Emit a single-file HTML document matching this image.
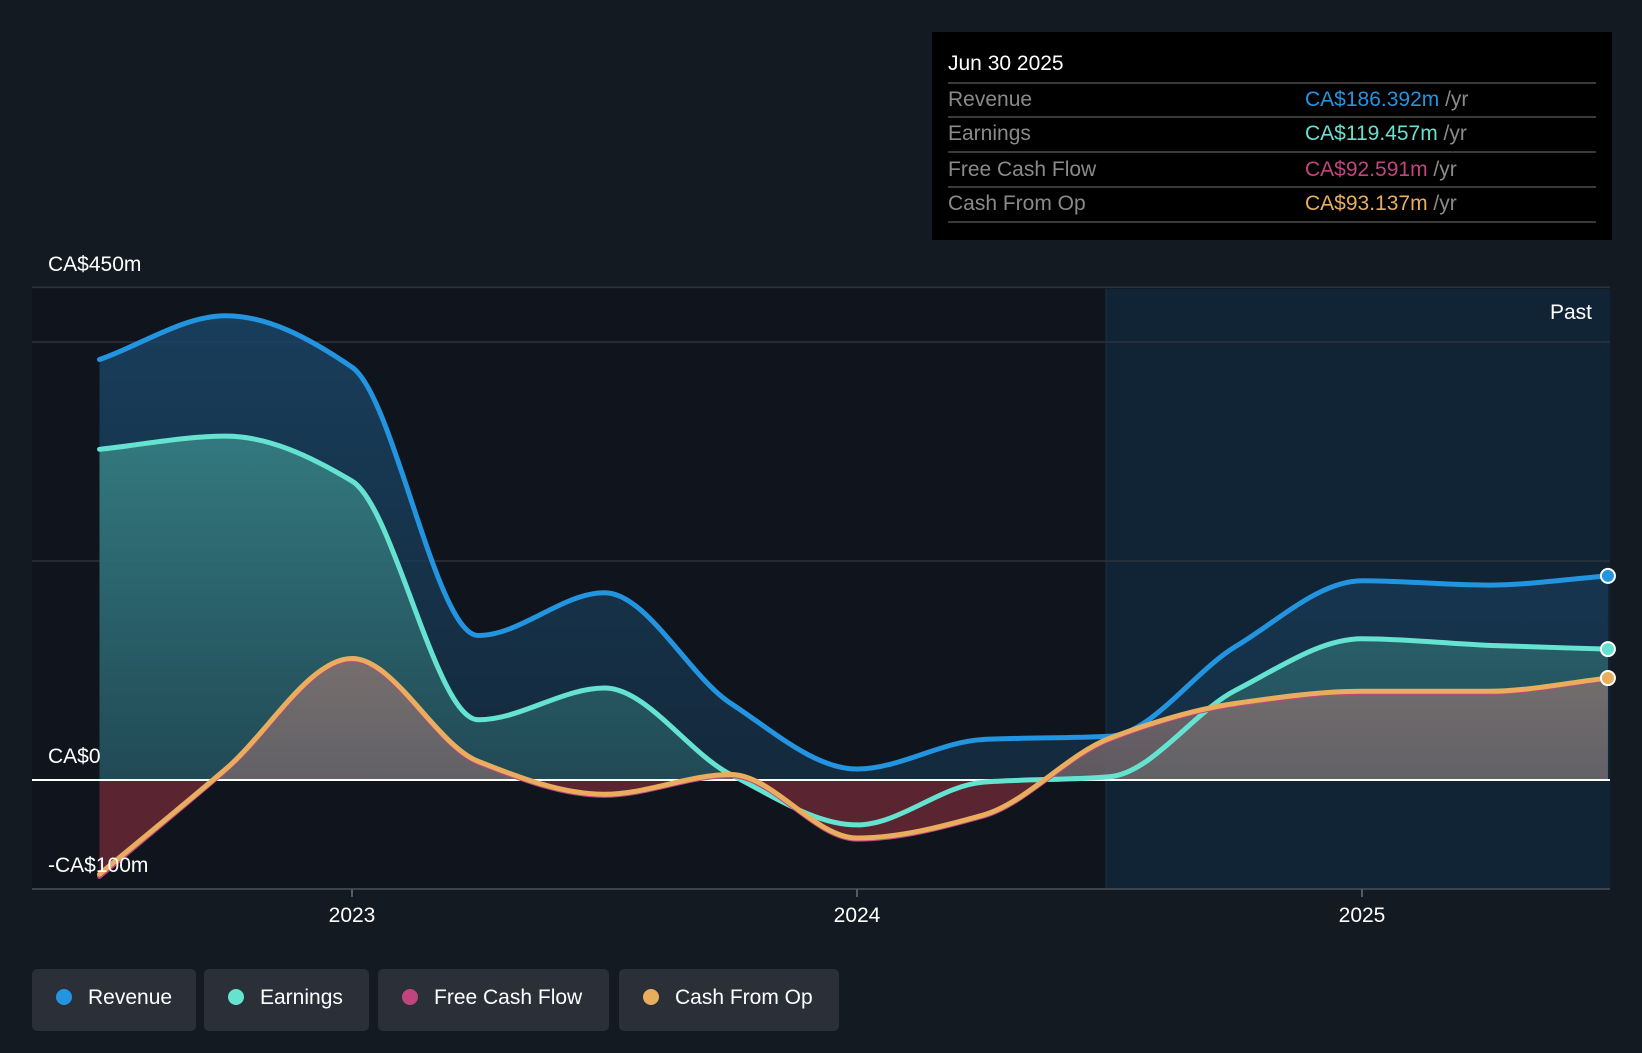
<!DOCTYPE html>
<html><head><meta charset="utf-8"><style>
body{margin:0;background:#141a22;width:1642px;height:1048px;overflow:hidden;font-family:"Liberation Sans",sans-serif}
svg text{font-family:"Liberation Sans",sans-serif}
</style></head><body>
<svg id="c" width="1642" height="1048"></svg>
<script>
const quarters=[2022.5,2022.75,2023,2023.25,2023.5,2023.75,2024,2024.25,2024.5,2024.75,2025,2025.25,2025.487];
const revenue=[384,424,377,132,171,70,10,37,40,122,182,178,186.4];
const earnings=[302,314,273,55,84,5,-41,-2,3,82,129,123,119.5];
const fcf=[-88,9,110,16,-14,4,-54,-33,37,69,80,80,92.6];
const cfo=[-86,10,111,17,-13,5,-53,-32,38,70,81,81,93.1];
const yTicks=[450,0,-100];
const yTickLabels=['CA$450m','CA$0','-CA$100m'];
const xTicks=[2023,2024,2025];
const NS='http://www.w3.org/2000/svg';
const svg=document.getElementById('c');
const X=t=>352+(t-2023)*505;
const Y=v=>780-v*1.095;
function el(tag,a,p){const e=document.createElementNS(NS,tag);for(const k in a)e.setAttribute(k,a[k]);(p||svg).appendChild(e);return e;}
function mono(xs,ys){const n=xs.length,d=[],m=[];for(let i=0;i<n-1;i++)d.push((ys[i+1]-ys[i])/(xs[i+1]-xs[i]));
m[0]=d[0];m[n-1]=d[n-2];for(let i=1;i<n-1;i++){const a=d[i-1],b=d[i];m[i]=a*b<=0?0:(2*a*b)/(a+b);}
let s='M'+xs[0]+','+ys[0];for(let i=0;i<n-1;i++){const h=(xs[i+1]-xs[i])/3;s+=`C${xs[i]+h},${ys[i]+m[i]*h} ${xs[i+1]-h},${ys[i+1]-m[i+1]*h} ${xs[i+1]},${ys[i+1]}`;}return s;}
const defs=el('defs',{});
defs.innerHTML=`<linearGradient id="gr" x1="0" y1="0" x2="0" y2="1"><stop offset="0" stop-color="#1a4566" stop-opacity="0.85"/><stop offset="1" stop-color="#16324a" stop-opacity="0.7"/></linearGradient>
<linearGradient id="ge" x1="0" y1="0" x2="0" y2="1"><stop offset="0" stop-color="#3a8a8a" stop-opacity="0.8"/><stop offset="1" stop-color="#24505a" stop-opacity="0.7"/></linearGradient>
<linearGradient id="gc" x1="0" y1="0" x2="0" y2="1"><stop offset="0" stop-color="#8a7470" stop-opacity="0.8"/><stop offset="1" stop-color="#6a6068" stop-opacity="0.7"/></linearGradient>
<clipPath id="pos"><rect x="0" y="0" width="1642" height="780"/></clipPath><clipPath id="neg"><rect x="0" y="780" width="1642" height="200"/></clipPath>`;
el('rect',{x:32,y:289,width:1074,height:600,fill:'#10151d',});
el('rect',{x:1106,y:289,width:504,height:600,fill:'#112435',});
el('line',{x1:1106,y1:289,x2:1106,y2:889,stroke:'#1d3040','stroke-width':1});
[450,400,200].forEach(v=>el('line',{x1:32,y1:Y(v),x2:1610,y2:Y(v),stroke:'#2c323b','stroke-width':1.5}));
const xs=quarters.map(X);
function area(vals,fill,name,clip){const p=mono(xs,vals.map(Y))+`L${xs[xs.length-1]},780L${xs[0]},780Z`;const e=el('path',{d:p,fill:fill,'clip-path':clip?'url(#'+clip+')':''});}
area(revenue,'url(#gr)','revenue-area');
area(earnings,'url(#ge)','earnings-area','pos');
area(cfo,'url(#gc)','cfo-area','pos');
area(fcf,'#5a2430','fcf-negative-area','neg');
el('line',{x1:32,y1:780,x2:1610,y2:780,stroke:'#ffffff','stroke-width':2,});
function line(vals,col,name){const e=el('path',{d:mono(xs,vals.map(Y)),fill:'none',stroke:col,'stroke-width':5,'stroke-linecap':'round'});}
line(revenue,'#2394e0','revenue-line');
line(earnings,'#65e3d0','earnings-line');
line(fcf,'#c0457f','fcf-line');
line(cfo,'#e8ae5e','cfo-line');
[[revenue,'#2394e0','revenue-end-dot'],[earnings,'#65e3d0','earnings-end-dot'],[cfo,'#e8ae5e','cfo-end-dot']].forEach(([v,c,n])=>{const e=el('circle',{cx:xs[xs.length-1],cy:Y(v[v.length-1]),r:7,fill:c,stroke:'#fff','stroke-width':2});});
el('line',{x1:32,y1:889,x2:1610,y2:889,stroke:'#3d434c','stroke-width':2});
const ly=[271,763,872];
yTicks.forEach((v,i)=>{const t=el('text',{x:48,y:ly[i],fill:'#fff','font-size':21});t.textContent=yTickLabels[i];});
xTicks.forEach(t=>{el('line',{x1:X(t),y1:889,x2:X(t),y2:897,stroke:'#555b63','stroke-width':2});const e=el('text',{x:X(t),y:922,fill:'#fff','font-size':21,'text-anchor':'middle'});e.textContent=t;});
const past=el('text',{x:1592,y:319,fill:'#fff','font-size':21,'text-anchor':'end',});past.textContent='Past';
const tg=el('g',{});
el('rect',{x:932,y:32,width:680,height:208,fill:'#000'},tg);
const h=el('text',{x:948,y:70,fill:'#fff','font-size':21},tg);h.textContent='Jun 30 2025';
const rows=[['Revenue','CA$186.392m','#2394e0'],['Earnings','CA$119.457m','#65e3d0'],['Free Cash Flow','CA$92.591m','#c0457f'],['Cash From Op','CA$93.137m','#e8ae5e']];
const lines=[83,117,152,187,222],ty=[106,140,176,210];
lines.forEach(y=>el('line',{x1:948,y1:y,x2:1596,y2:y,stroke:'#3a3a3a','stroke-width':2},tg));
rows.forEach((r,i)=>{const a=el('text',{x:948,y:ty[i],fill:'#8a8a8a','font-size':21},tg);a.textContent=r[0];
const b=el('text',{x:1305,y:ty[i],'font-size':21,fill:r[2]},tg);b.textContent=r[1];const s=el('tspan',{fill:'#8a8a8a'},b);s.textContent=' /yr';});
const leg=[['Revenue','#2394e0',32,164],['Earnings','#65e3d0',204,165],['Free Cash Flow','#c0457f',378,231],['Cash From Op','#e8ae5e',619,220]];
leg.forEach(([n,c,x,w])=>{const g=el('g',{});
el('rect',{x:x,y:969,width:w,height:62,rx:5,fill:'#2a2f38'},g);el('circle',{cx:x+32,cy:997,r:8,fill:c},g);
const t=el('text',{x:x+56,y:1004,fill:'#fff','font-size':21},g);t.textContent=n;});
</script></body></html>
